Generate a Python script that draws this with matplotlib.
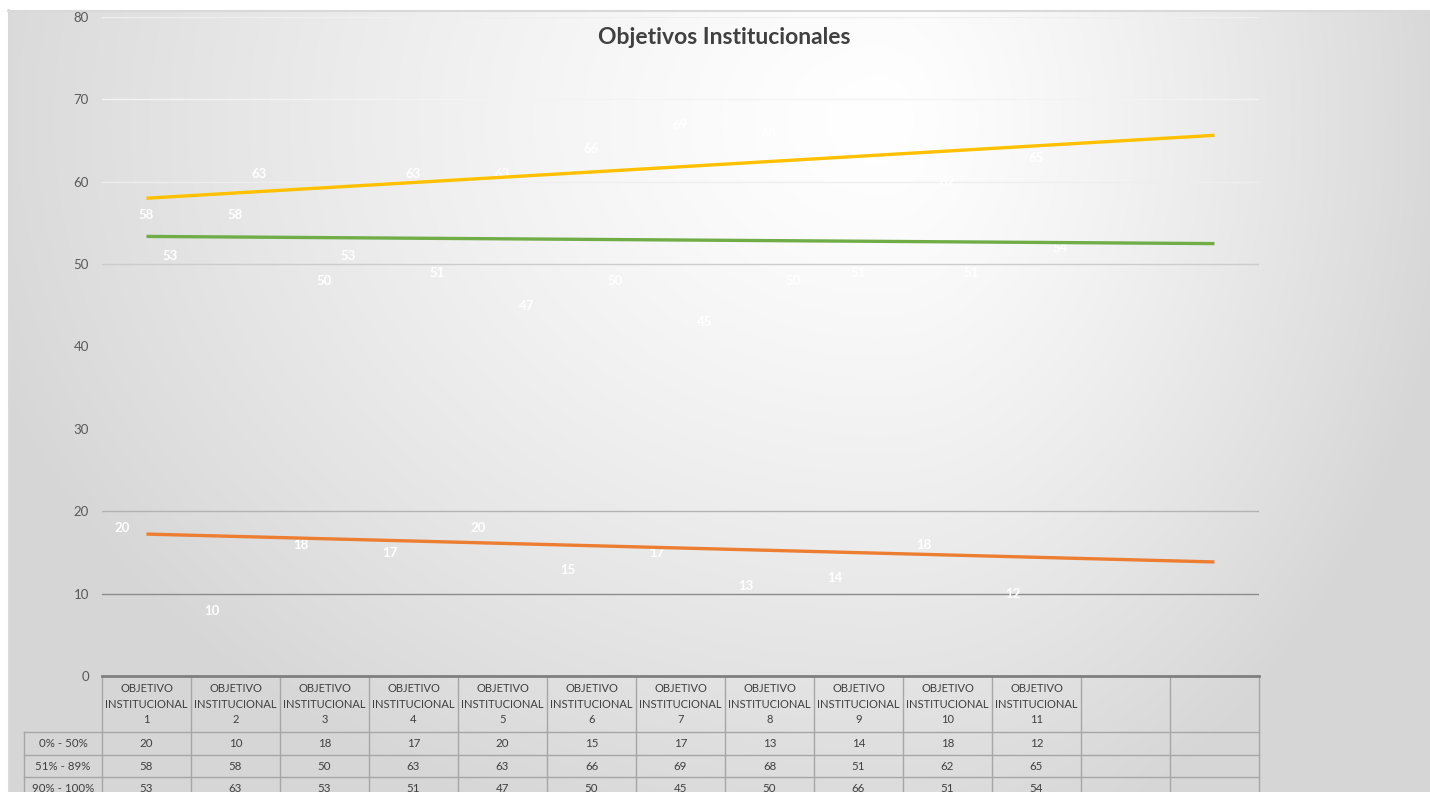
import numpy as np
import matplotlib
matplotlib.use("Agg")
import matplotlib.pyplot as plt

W, H = 1430, 792

objectives = [f"OBJETIVO\nINSTITUCIONAL\n{i}" for i in range(1, 12)]
n_slots = 13  # table shows two extra empty columns (trendline forecast)
series_names = ["0% - 50%", "51% - 89%", "90% - 100%"]
low = [20, 10, 18, 17, 20, 15, 17, 13, 14, 18, 12]
mid = [58, 58, 50, 63, 63, 66, 69, 68, 51, 62, 65]
high = [53, 63, 53, 51, 47, 50, 45, 50, 66, 51, 54]
yticks = [0, 10, 20, 30, 40, 50, 60, 70, 80]

colors = ["#ED7D31", "#FFC000", "#70AD47"]
grid_colors = {10: "#8c8c8c", 20: "#b3b3b3", 50: "#cccccc",
               60: "#eeeeee", 70: "#f3f3f3", 80: "#efefef"}

plt.rcParams["font.family"] = ["Lato", "DejaVu Sans"]

fig = plt.figure(figsize=(W / 100, H / 100), dpi=100)
fig.patch.set_facecolor("white")

# gradient background of the chart area
bg = fig.add_axes([0, 0, 1, 1], zorder=-5)
bg.set_xlim(0, W)
bg.set_ylim(H, 0)
bg.axis("off")
yy, xx = np.mgrid[10:H, 8:W]
cx, cy = 880, 120
dx = np.where(xx < cx, (xx - cx) / 950, (xx - cx) / 580)
dy = (yy - cy) / 760
d = np.clip(np.hypot(dx, dy), 0, 1)
shade = 1 - 0.16 * d ** 1.3
bg.imshow(np.dstack([shade] * 3), extent=(8, W, H, 10), aspect="auto",
          interpolation="bilinear")
bg.plot([8, W], [10.5, 10.5], color="#d9d9d9", lw=1.5)
bg.plot([8.5, 8.5], [10, H], color="#d9d9d9", lw=1.5)

# main plot
ax = fig.add_axes([102 / W, 1 - 676 / H, (1259 - 102) / W, (676 - 17) / H])
ax.set_facecolor("none")
ax.set_xlim(0.5, n_slots + 0.5)
ax.set_ylim(0, 80)
for s in ax.spines.values():
    s.set_visible(False)
ax.set_xticks([])
ax.set_yticks(yticks)
ax.tick_params(axis="y", length=0, pad=9.5, labelsize=9.5, labelcolor="#595959")

for y, c in grid_colors.items():
    ax.axhline(y, color=c, lw=1, zorder=1)

x = np.arange(1, len(objectives) + 1)
width = 0.27
for vals, off in zip([low, mid, high], [-width, 0, width]):
    bars = ax.bar(x + off, vals, width, color="none", zorder=2)
    for r, v in zip(bars, vals):
        ax.annotate(str(v), (r.get_x() + r.get_width() / 2, r.get_height()),
                    xytext=(0, -12.3), textcoords="offset points",
                    ha="center", va="center", color="white",
                    fontsize=9.5, fontweight="bold", zorder=3)

# linear trendlines, forecast forward to the last table column
xt = np.array([1, n_slots])
for vals, c in zip([low, mid, high], colors):
    m, b = np.polyfit(x, vals, 1)
    ax.plot(xt, m * xt + b, color=c, lw=2.4, solid_capstyle="butt", zorder=5)

# data table under the axis
tab = fig.add_axes([0, 0, 1, 1], zorder=3)
tab.set_facecolor("none")
tab.set_xlim(0, W)
tab.set_ylim(H, 0)
tab.axis("off")

edges = [ax.transData.transform((i + 0.5, 0))[0] for i in range(n_slots + 1)]
y_axis = 676
rows_y = [732, 755, 777, 800]
name_left = 24
line_c = "#a6a6a6"
txt_c = "#404040"

for yr in rows_y[:-1]:
    tab.plot([name_left, edges[-1]], [yr, yr], color=line_c, lw=1)
for e in edges:
    tab.plot([e, e], [y_axis, H], color=line_c, lw=1)
tab.plot([name_left, name_left], [rows_y[0], H], color=line_c, lw=1)
tab.plot([edges[0], edges[-1]], [y_axis, y_axis], color="#7f7f7f", lw=2)

for i, lab in enumerate(objectives):
    xc = (edges[i] + edges[i + 1]) / 2
    tab.text(xc, 704, lab, ha="center", va="center", fontsize=8,
             color=txt_c, linespacing=1.55)
    for j, vals in enumerate([low, mid, high]):
        yc = (rows_y[j] + rows_y[j + 1]) / 2
        tab.text(xc, yc, str(vals[i]), ha="center", va="center",
                 fontsize=8.3, color=txt_c)

for j, name in enumerate(series_names):
    yc = (rows_y[j] + rows_y[j + 1]) / 2
    tab.text((name_left + edges[0]) / 2, yc, name, ha="center", va="center",
             fontsize=8.3, color=txt_c)

fig.text(724 / W, 1 - 38 / H, "Objetivos Institucionales", ha="center",
         va="center", fontsize=16.5, fontweight="bold", color="#404040")

fig.savefig("out.png", dpi=100)
